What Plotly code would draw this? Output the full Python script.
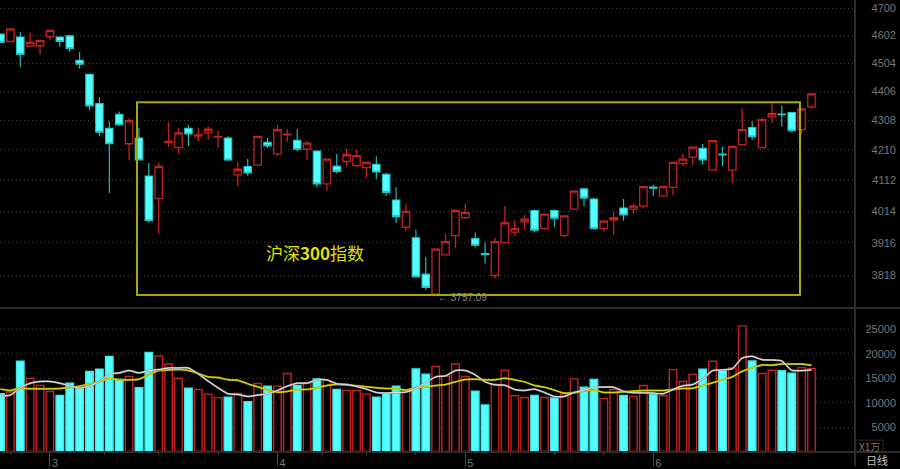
import numpy as np
import plotly.graph_objects as go

days = list(range(83))

opens = [4607,4580,4596,4564,4565,4597,4596,4600,4514,4465,4364,4281,4328,4230,4249,4125,4053,4235,4218,4281,
         4255,4266,4252,4249,4129,4156,4160,4235,4197,4259,4241,4212,4206,4100,4157,4172,4159,4152,4163,4131,
         4049,3964,3932,3822,3763,3880,3938,3994,3929,3884,3818,3917,3949,3981,4016,3960,4016,3938,4020,4084,
         4052,3960,3987,4024,4020,4030,4090,4061,4089,4165,4186,4215,4144,4196,4144,4227,4284,4217,4319,4329,
         4334,4277,4353]
highs = [4607,4625,4614,4611,4583,4620,4596,4604,4543,4465,4386,4305,4337,4314,4281,4167,4169,4301,4281,4291,
         4281,4288,4273,4255,4171,4180,4254,4249,4292,4278,4278,4239,4206,4180,4196,4214,4209,4169,4189,4136,
         4089,4037,3957,3873,3897,3945,4016,4038,3948,3917,3932,4030,3985,4002,4019,4005,4019,3999,4077,4087,
         4057,3983,4013,4052,4038,4093,4097,4091,4169,4197,4219,4229,4240,4220,4221,4347,4305,4317,4368,4358,
         4334,4346,4400]
lows = [4577,4580,4489,4564,4534,4586,4561,4545,4484,4342,4255,4070,4288,4178,4177,3979,3943,4220,4197,4223,
        4237,4243,4216,4174,4092,4126,4160,4216,4191,4237,4205,4177,4089,4078,4135,4157,4154,4120,4116,4062,
        3977,3953,3814,3776,3757.09,3877,3900,3989,3902,3854,3809,3917,3937,3958,3949,3957,3964,3934,4020,4029,
        3957,3950,3940,3984,4005,4023,4061,4061,4064,4158,4160,4162,4144,4157,4104,4227,4243,4217,4298,4287,
        4268,4263,4347]
closes = [4577,4625,4534,4577,4583,4620,4580,4555,4500,4356,4268,4230,4293,4307,4177,3984,4156,4238,4266,4262,
          4259,4278,4254,4177,4147,4135,4254,4223,4277,4262,4212,4232,4100,4180,4140,4194,4191,4169,4138,4073,
          3997,4013,3814,3783,3897,3920,4016,4010,3909,3880,3920,3978,3960,3989,3955,4005,3992,3999,4077,4055,
          3960,3983,3994,4002,4030,4091,4086,4091,4169,4180,4219,4177,4240,4193,4221,4277,4253,4310,4331,4327,
          4273,4346,4397]

volume = [11830,12170,18500,15030,13530,12310,11490,14010,13060,16390,16860,19520,14760,15370,13060,20330,19580,17950,15030,12990,
          12720,11760,11080,11150,11900,10200,13940,13400,13400,15980,13530,14080,14890,14550,12720,12510,12510,11760,11150,11900,
          13400,12380,16930,15840,17410,15440,17950,15370,12380,9520,13740,16660,11420,11080,11490,11080,10950,11830,14890,13190,
          14760,10880,12720,11490,11290,13530,11630,11420,16800,14350,15780,16860,18500,16730,17140,25770,18560,15980,16660,16590,
          16050,17200,17000]
vol_ma5 = [11356,11560,13056,14008,14348,14348,14008,13464,12988,13464,14280,15912,16116,16592,16116,16592,16796,17136,17136,17136,
           15912,14416,13056,11832,11696,11288,11560,11832,12512,13396,14008,14008,14688,14688,13872,13736,13328,12784,12104,11968,
           12104,12172,12920,14144,15300,15504,16592,16592,15708,14280,13668,13600,12716,12512,12784,12104,11288,11288,12104,12580,
           13192,13192,13192,12308,12036,12036,11968,11832,12716,13464,13736,14892,16592,16728,17000,19176,19516,18836,18768,18564,
           16660,16592,16728]
vol_ma10 = [12784,12512,12988,12852,12852,12852,12920,13192,13396,13872,14280,14960,14688,14688,14824,15776,16592,16728,16796,16592,
            15980,15300,15164,14688,14620,13872,13260,12648,12172,12308,12716,12716,13056,13532,13736,13668,13464,13260,13056,12920,
            12852,12580,13056,13260,13532,13736,14280,14756,14824,14688,14688,15028,14688,14280,13532,13192,12580,11968,12036,12376,
            12580,12104,12104,12240,12376,12512,12512,12512,12716,12920,12988,13532,14076,14688,15300,16456,17136,17748,17680,17952,
            17952,17952,17680]

price_ticks = [4700,4602,4504,4406,4308,4210,4112,4014,3916,3818]
vol_ticks = [5000,10000,15000,20000,25000]
month_ticks = [5,28,47,66]
month_labels = ["3","4","5","6"]
minor_ticks = [1,10.5,16,22,32.6,37,42,51.6,56,61]

RED = "#c42020"
CYAN = "#55ffff"
GRID = "#3e3e3e"
FRAME = "#2c2c2c"
LABEL = "#757575"
W, H = 900, 469

fig = go.Figure()

fig.add_trace(go.Candlestick(
    x=days, open=opens, high=highs, low=lows, close=closes,
    xaxis="x", yaxis="y", whiskerwidth=0,
    increasing=dict(line=dict(color=RED, width=1.3), fillcolor="#000000"),
    decreasing=dict(line=dict(color="#25c8c8", width=1.1), fillcolor=CYAN),
))

up = np.array(closes) >= np.array(opens)
fig.add_trace(go.Bar(
    x=days, y=volume, xaxis="x2", yaxis="y2", width=0.76,
    marker=dict(color=["#000000" if u else CYAN for u in up],
                line=dict(color=[RED if u else "#3fe8e8" for u in up], width=1.4)),
))

# the moving averages have a dim line under a bright one
for series, dim, bright in [(vol_ma10, "#a0a000", "#f0f000"), (vol_ma5, "#8c8c8c", "#ffffff")]:
    fig.add_trace(go.Scatter(x=days, y=series, xaxis="x2", yaxis="y2", mode="lines",
                             line=dict(color=dim, width=2, shape="spline", smoothing=0.6)))
    fig.add_trace(go.Scatter(x=days, y=series, xaxis="x2", yaxis="y2", mode="lines",
                             line=dict(color=bright, width=0.8, shape="spline", smoothing=0.6)))


def px(x):
    return x / W


def py(y):
    return 1 - y / H


def rule(x0, y0, x1, y1, color=FRAME, width=2):
    return dict(type="line", xref="paper", yref="paper", x0=px(x0), y0=py(y0), x1=px(x1), y1=py(y1),
                line=dict(color=color, width=width))


def note(x, y, text, **font):
    return dict(xref="paper", yref="paper", x=px(x), y=py(y), xanchor="center", yanchor="middle",
                showarrow=False, text=text, font=dict(family="Noto Sans CJK SC", **font))


x_range = [-0.05, 86.4]
fig.update_layout(
    width=W, height=H,
    margin=dict(l=0, r=0, t=0, b=0),
    paper_bgcolor="#000000", plot_bgcolor="#000000",
    showlegend=False, hovermode=False,
    boxgap=0.25, boxgroupgap=0,
    font=dict(family="Liberation Sans", size=11, color=LABEL),
    xaxis=dict(domain=[0, 855 / W], range=x_range, anchor="y", showgrid=False, zeroline=False,
               showticklabels=False, ticks="", rangeslider=dict(visible=False)),
    xaxis2=dict(domain=[0, 855 / W], range=x_range, anchor="y2", showgrid=False, zeroline=False,
                tickvals=month_ticks, ticktext=month_labels, ticks="outside", ticklen=13, tickwidth=1,
                tickcolor="#4a4a4a", ticklabelstandoff=-12, ticklabelshift=5,
                tickfont=dict(size=11, color="#777777"),
                minor=dict(tickvals=minor_ticks, ticks="outside", ticklen=2, tickcolor="#444444")),
    yaxis=dict(type="log", domain=[py(308), 1], range=[3.57153, 3.67489],
               anchor="free", position=896 / W, side="left", tickvals=price_ticks,
               ticktext=[str(t) for t in price_ticks], ticks="", showline=False, zeroline=False,
               showgrid=True, gridcolor=GRID, griddash="1px,3px", gridwidth=1),
    yaxis2=dict(domain=[py(455), py(310)], range=[-143, 29440],
                anchor="free", position=896 / W, side="left", tickvals=vol_ticks,
                ticktext=[str(t) for t in vol_ticks], ticks="", showline=False, zeroline=False,
                showgrid=True, gridcolor=GRID, griddash="1px,3px", gridwidth=1),
    shapes=[
        rule(855, 0, 855, 469),
        rule(0, 310, 900, 310),
        rule(0, 455, 900, 455),
        rule(883, 443, 883, 455, width=1),
        rule(856, 443, 883, 443, width=1),
        dict(type="rect", xref="paper", yref="paper", x0=px(137), y0=py(297), x1=px(800), y1=py(103),
             line=dict(color="#a8a800", width=2), fillcolor="rgba(0,0,0,0)", layer="above"),
    ],
    annotations=[
        note(315, 254, "沪深<b>300</b>指数", size=17, color="#e0e000"),
        dict(xref="x", yref="y", x=44, y=np.log10(3757.09), xanchor="left", yanchor="middle", yshift=-1,
             showarrow=False, text="← 3757.09", font=dict(size=10, color="#8a8a8a")),
        note(869.5, 449, "X1万", size=10, color="#7a7a7a"),
        note(877, 463, "日线", size=11, color="#c0c0c0"),
    ],
)

# the default page margin would push the figure out of the window
fig.write_html("out.html", config=dict(displayModeBar=False),
               post_script="document.body.style.margin='0';document.body.style.overflow='hidden';")
